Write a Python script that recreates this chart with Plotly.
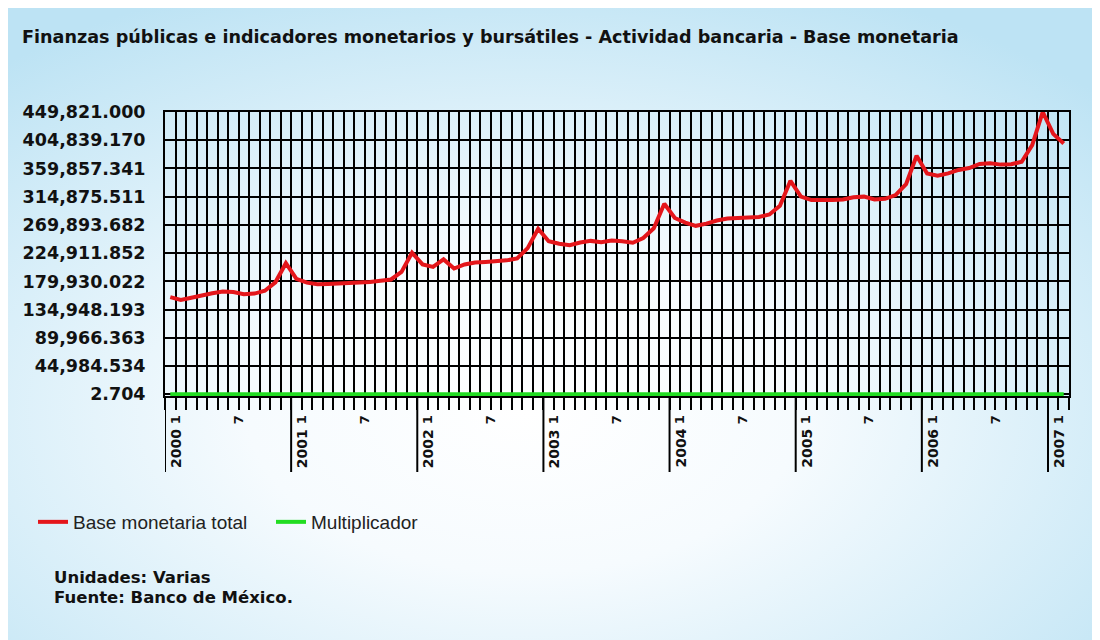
import base64
import plotly.graph_objects as go

# ---------------- data ----------------
years = [2000, 2001, 2002, 2003, 2004, 2005, 2006, 2007]
month_labels = {1: "1", 7: "7"}

base_monetaria_total = [
    # 2000
    155000, 150500, 154000, 158000, 161000, 164000, 163000, 159500, 160500, 165000, 178500, 208943,
    # 2001
    184000, 178000, 175500, 176000, 176500, 178500, 179000, 179000, 181000, 183000, 195000, 225580,
    # 2002
    207000, 203000, 215000, 200500, 207000, 210000, 211000, 212000, 213500, 216500, 233000, 263937,
    # 2003
    244000, 240000, 237500, 242000, 244500, 242500, 245000, 244000, 241500, 249000, 264500, 303614,
    # 2004
    281000, 273500, 268500, 272000, 277000, 280000, 281000, 281500, 282500, 286500, 300500, 340178,
    # 2005
    315000, 309500, 309000, 309500, 310500, 314000, 315000, 310500, 311500, 317500, 335000, 380034,
    # 2006
    352000, 348500, 352000, 357500, 360500, 367000, 368000, 366000, 366500, 370500, 397000, 449821,
    # 2007
    415000, 399500,
]

multiplicador = [
    2.95, 2.93, 2.91, 2.90, 2.88, 2.86, 2.85, 2.87, 2.88, 2.86, 2.82, 2.74,
    2.80, 2.84, 2.86, 2.85, 2.86, 2.87, 2.88, 2.89, 2.90, 2.89, 2.85, 2.72,
    2.79, 2.83, 2.78, 2.85, 2.84, 2.85, 2.86, 2.87, 2.88, 2.87, 2.82, 2.71,
    2.78, 2.81, 2.83, 2.82, 2.81, 2.83, 2.84, 2.85, 2.86, 2.84, 2.80, 2.704,
    2.77, 2.80, 2.82, 2.81, 2.80, 2.81, 2.82, 2.83, 2.84, 2.83, 2.79, 2.71,
    2.76, 2.79, 2.80, 2.81, 2.81, 2.80, 2.81, 2.83, 2.84, 2.82, 2.78, 2.72,
    2.76, 2.78, 2.79, 2.78, 2.79, 2.80, 2.81, 2.82, 2.83, 2.82, 2.78, 2.71,
    2.75, 2.78,
]

y_tick_values = [2.704, 44984.534, 89966.363, 134948.193, 179930.022, 224911.852,
                 269893.682, 314875.511, 359857.341, 404839.170, 449821.000]
y_tick_text = ["2.704", "44,984.534", "89,966.363", "134,948.193", "179,930.022",
               "224,911.852", "269,893.682", "314,875.511", "359,857.341",
               "404,839.170", "449,821.000"]

title_text = ("Finanzas públicas e indicadores monetarios y bursátiles - "
              "Actividad bancaria - Base monetaria")
series_names = ["Base monetaria total", "Multiplicador"]
footer_lines = ["Unidades: Varias", "Fuente: Banco de México."]

# ---------------- layout helpers ----------------
n = len(base_monetaria_total)
x_pos = [i + 0.5 for i in range(n)]          # centre of each monthly slot
boundaries = list(range(n + 1))              # slot boundaries -> grid lines / ticks
tick_text = []
for b in boundaries:
    m = (b - 1) % 12 + 1
    tick_text.append(month_labels.get(m, "") if b >= 1 else "")

OFF = 8                      # page offset of the figure inside the window
W, H = 1100 - OFF, 640 - OFF
PL, PR, PT, PB = 165, 1069, 112, 396   # plot area in window pixels
L, T = PL - OFF, PT - OFF
R, B = W - (PR - OFF), H - (PB - OFF)
pw, ph = PR - PL, PB - PT

def px_x(px):
    return (px - PL) / pw

def px_y(py):
    return (PB - py) / ph

BOLD = "DejaVu Sans"

fig = go.Figure()
fig.add_trace(go.Scatter(x=x_pos, y=base_monetaria_total, mode="lines",
                         name=series_names[0],
                         line=dict(color="#e4161b", width=4)))
fig.add_trace(go.Scatter(x=x_pos, y=multiplicador, mode="lines",
                         name=series_names[1],
                         line=dict(color="#22dd22", width=4)))

# background radial gradient
svg = (
    '<svg xmlns="http://www.w3.org/2000/svg" width="1100" height="640">'
    '<defs><radialGradient id="g" cx="0.47" cy="0.63" r="0.72">'
    '<stop offset="0" stop-color="#ffffff"/>'
    '<stop offset="0.35" stop-color="#f6fbfe"/>'
    '<stop offset="1" stop-color="#bde3f4"/>'
    '</radialGradient></defs>'
    '<rect width="1100" height="640" fill="url(#g)"/></svg>'
)
svg_uri = "data:image/svg+xml;base64," + base64.b64encode(svg.encode()).decode()

shapes = []
annotations = []
for k, yr in enumerate(years):
    xb = 12 * k
    shapes.append(dict(type="line", xref="x", yref="paper", x0=xb, x1=xb,
                       y0=0, y1=px_y(472), line=dict(color="black", width=2)))
    annotations.append(dict(text=str(yr), xref="x", yref="paper", x=xb + 1,
                            y=px_y(427), xanchor="center", yanchor="top",
                            textangle=-90, showarrow=False,
                            font=dict(family=BOLD, size=14, color="#111",
                                      weight="bold")))

annotations.append(dict(text=title_text, xref="paper", yref="paper",
                        x=px_x(20), y=px_y(37), xanchor="left", yanchor="middle",
                        showarrow=False,
                        font=dict(family=BOLD, size=17.6, color="#111", weight="bold")))
for j, line in enumerate(footer_lines):
    annotations.append(dict(text=line, xref="paper", yref="paper",
                            x=px_x(52), y=px_y(577 + 20 * j), xanchor="left",
                            yanchor="middle", showarrow=False,
                            font=dict(family=BOLD, size=16.5, color="#111",
                                      weight="bold")))

fig.update_layout(
    width=W, height=H,
    margin=dict(l=L, r=R, t=T, b=B, pad=0),
    paper_bgcolor="#d9f0f9",
    plot_bgcolor="rgba(0,0,0,0)",
    images=[dict(source=svg_uri, xref="paper", yref="paper",
                 x=px_x(OFF), y=px_y(OFF), sizex=1100 / pw, sizey=640 / ph,
                 xanchor="left", yanchor="top", sizing="stretch",
                 layer="below")],
    showlegend=True,
    legend=dict(orientation="h", x=px_x(33), y=px_y(503), xanchor="left",
                yanchor="top", bgcolor="rgba(0,0,0,0)",
                entrywidth=193, entrywidthmode="pixels",
                font=dict(family="Liberation Sans", size=19, color="#222")),
    shapes=shapes,
    annotations=annotations,
    xaxis=dict(range=[0, n], tickmode="array", tickvals=boundaries,
               ticktext=tick_text, tickangle=-90,
               showgrid=True, gridcolor="black", gridwidth=2,
               ticks="outside", ticklen=12, tickwidth=2, tickcolor="black",
               showline=True, linecolor="black", linewidth=2, mirror=True,
               zeroline=False,
               tickfont=dict(family=BOLD, size=13, color="#111", weight="bold")),
    yaxis=dict(range=[-2600, 449821], tickmode="array", tickvals=y_tick_values,
               ticktext=y_tick_text,
               showgrid=True, gridcolor="black", gridwidth=2,
               ticks="", ticklabelstandoff=14,
               showline=True, linecolor="black", linewidth=2, mirror=True,
               zeroline=False,
               tickfont=dict(family=BOLD, size=17.5, color="#111", weight="bold")),
)

fig.write_html("out.html")
